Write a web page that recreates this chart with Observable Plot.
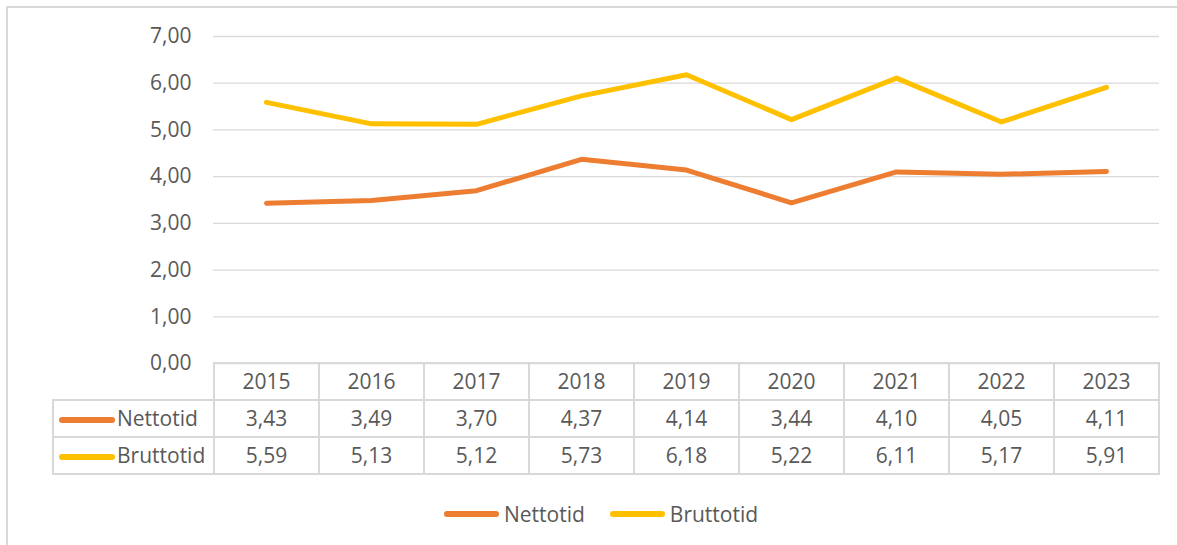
<!DOCTYPE html>
<html><head><meta charset="utf-8">
<script src="https://cdn.jsdelivr.net/npm/d3@7"></script>
<script src="https://cdn.jsdelivr.net/npm/@observablehq/plot@0.6"></script>
<style>
body{margin:0;background:#fff;font-family:"Open Sans",sans-serif;color:#595959;}
#wrap{position:relative;width:1177px;height:545px;overflow:hidden;background:#fff;}
#frame{position:absolute;left:6px;top:6px;width:1300px;height:600px;border-left:2px solid #d9d9d9;border-top:2px solid #d9d9d9;box-sizing:border-box;}
#chart{position:absolute;left:0;top:0;}
#tbl{position:absolute;left:52px;top:362px;border-collapse:collapse;font-size:21px;color:#595959;}
#tbl td{border:2px solid #d9d9d9;text-align:center;padding:0;height:35px;width:103px;line-height:1;}
#tbl td.lab{width:159px;text-align:left;white-space:nowrap;}
#tbl td.blank{border:none;border-bottom:2px solid #d9d9d9;}
.sw{display:inline-block;width:56px;height:6px;border-radius:3px;vertical-align:middle;margin:0 2px 0 5px;}
#legend{position:absolute;left:444px;top:500px;display:flex;align-items:center;font-size:21px;color:#595959;}
#legend .item{display:flex;align-items:center;margin-right:25px;}
#legend .sw{margin:0 5px 0 0;width:55px;}
</style></head>
<body>
<div id="wrap">
  <div id="frame"></div>
  <div id="chart"></div>
  <table id="tbl"></table>
  <div id="legend"></div>
</div>
<script>
const years = ["2015","2016","2017","2018","2019","2020","2021","2022","2023"];
const nettotid = [3.43,3.49,3.70,4.37,4.14,3.44,4.10,4.05,4.11];
const bruttotid = [5.59,5.13,5.12,5.73,6.18,5.22,6.11,5.17,5.91];
const seriesNames = ["Nettotid","Bruttotid"];
const seriesColors = ["#ED7D31","#FFC000"];
const yTicks = [0,1,2,3,4,5,6,7];

const loc = d3.formatLocale({decimal:",", thousands:" ", grouping:[3], currency:["","kr"]});
const fmt = loc.format(".2f");

const rows = years.map((yr,i)=>({year:yr, netto:nettotid[i], brutto:bruttotid[i]}));

const chart = Plot.plot({
  width:1177, height:366,
  marginLeft:213, marginRight:18, marginTop:36, marginBottom:3,
  style:{fontFamily:"Open Sans, sans-serif", fontSize:"21px", color:"#595959", background:"transparent", overflow:"visible"},
  x:{type:"point", domain:years, range:[266,1106], padding:0, axis:null},
  y:{domain:[0,7], range:[363,36], axis:null},
  marks:[
    Plot.ruleY(yTicks, {stroke:"#d9d9d9", strokeWidth:1.3}),
    Plot.axisY(yTicks, {tickFormat:fmt, tickSize:0, tickPadding:22, label:null, fontSize:21}),
    Plot.line(rows, {x:"year", y:"netto", stroke:seriesColors[0], strokeWidth:5, strokeLinecap:"round", strokeLinejoin:"round"}),
    Plot.line(rows, {x:"year", y:"brutto", stroke:seriesColors[1], strokeWidth:5, strokeLinecap:"round", strokeLinejoin:"round"})
  ]
});
document.getElementById("chart").appendChild(chart);

// data table
const tbl = document.getElementById("tbl");
let hr = "<tr><td class='lab blank'></td>" + years.map(y=>`<td>${y}</td>`).join("") + "</tr>";
const series = [nettotid, bruttotid];
series.forEach((vals,k)=>{
  hr += `<tr><td class='lab'><span class='sw' style='background:${seriesColors[k]}'></span>${seriesNames[k]}</td>` +
        vals.map(v=>`<td>${fmt(v)}</td>`).join("") + "</tr>";
});
tbl.innerHTML = hr;

// legend
document.getElementById("legend").innerHTML = seriesNames.map((n,k)=>
  `<div class='item'><span class='sw' style='background:${seriesColors[k]}'></span>${n}</div>`).join("");
</script>
</body></html>
